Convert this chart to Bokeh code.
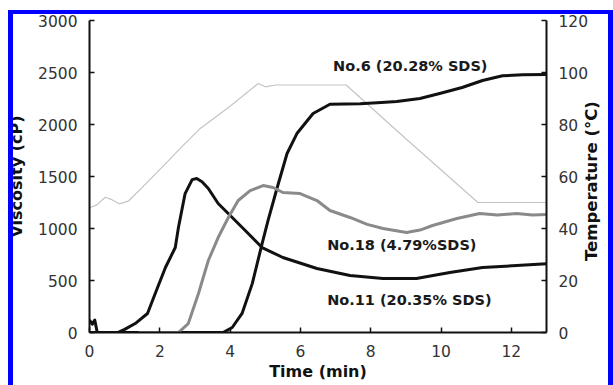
import math
from bokeh.plotting import figure
from bokeh.models import Range1d, LinearAxis, FixedTicker, InlineStyleSheet
from bokeh.core.properties import value
from bokeh.embed import file_html
from bokeh.resources import INLINE

# --- data -------------------------------------------------------------
# temperature programme (right axis, degC)
time_temp = [0, 0.2, 0.45, 0.65, 0.85, 1.1, 1.5, 2.24, 2.58, 3.15, 4.0, 4.8, 5.0, 5.3, 7.3, 9.0, 11.05, 13.0]
temp = [48, 49, 52, 51, 49.5, 50.5, 55.8, 66, 70.8, 78.5, 87, 95.8, 94.5, 95.2, 95.2, 74.5, 50, 50]

# No.6 (20.28% SDS) viscosity, cP
time_no6 = [0, 3.8, 4.06, 4.34, 4.63, 4.91, 5.08, 5.34, 5.62, 5.9, 6.36, 6.84, 7.7, 8.3, 8.74,
            9.4, 9.96, 10.6, 11.18, 11.75, 12.32, 13.0]
visc_no6 = [0, 0, 48, 183, 470, 855, 1077, 1394, 1721, 1913, 2106, 2195, 2200, 2212, 2221,
            2250, 2298, 2356, 2423, 2468, 2478, 2480]

# No.11 (20.35% SDS) viscosity, cP
time_no11 = [0, 0.08, 0.15, 0.22, 0.8, 1.0, 1.3, 1.65, 1.87, 2.16, 2.44, 2.53, 2.72, 2.92, 3.05,
             3.2, 3.38, 3.66, 4.06, 4.43, 4.91, 5.5, 6.47, 7.41, 8.35, 9.3, 10.25, 11.18, 12.15, 13.0]
visc_no11 = [120, 80, 120, 0, 0, 30, 86, 183, 375, 625, 817, 1010, 1336, 1470, 1480,
             1450, 1385, 1240, 1106, 981, 817, 721, 615, 548, 519, 519, 577, 625, 644, 660]

# No.18 (4.79% SDS) viscosity, cP
time_no18 = [1.4, 2.53, 2.81, 3.1, 3.38, 3.66, 3.95, 4.23, 4.57, 4.94, 5.22, 5.5, 5.99, 6.47,
             6.84, 7.41, 7.9, 8.35, 9.02, 9.4, 9.76, 10.45, 11.1, 11.6, 12.15, 12.6, 13.0]
visc_no18 = [0, 0, 86, 375, 692, 913, 1106, 1269, 1365, 1413, 1394, 1346, 1336, 1269,
             1173, 1106, 1040, 1000, 962, 985, 1029, 1096, 1144, 1130, 1144, 1130, 1135]

x_ticks = [0, 2, 4, 6, 8, 10, 12]
visc_ticks = [0, 500, 1000, 1500, 2000, 2500, 3000]
temp_ticks = [0, 20, 40, 60, 80, 100, 120]

curve_labels = ["No.6 (20.28% SDS)", "No.18 (4.79%SDS)", "No.11 (20.35% SDS)"]
label_time = [6.93, 6.76, 6.76]
label_visc = [2558, 837, 308]

# --- figure -----------------------------------------------------------
FONT = "DejaVu Sans"

p = figure(width=613, height=385, output_backend="svg", toolbar_location=None,
           x_range=Range1d(0, 13), y_range=Range1d(0, 3000),
           min_border_left=89, min_border_right=66, min_border_top=20, min_border_bottom=53,
           background_fill_color="white", border_fill_color="white")
p.outline_line_color = None
p.grid.visible = False
p.extra_y_ranges = {"temp": Range1d(0, 120)}


def style_axis(ax, ticks, standoff):
    ax.ticker = FixedTicker(ticks=ticks)
    ax.minor_tick_line_color = None
    ax.major_tick_in = 5
    ax.major_tick_out = 0
    ax.major_tick_line_width = 1.5
    ax.major_tick_line_color = "#111111"
    ax.axis_line_width = 2
    ax.axis_line_color = "#111111"
    ax.major_label_text_font = FONT
    ax.major_label_text_font_size = "15.5px"
    ax.major_label_text_color = "#333333"
    ax.major_label_standoff = standoff
    ax.axis_label_text_font = FONT
    ax.axis_label_text_font_size = "16px"
    ax.axis_label_text_font_style = "bold"
    ax.axis_label_text_color = "#111111"


xa = p.xaxis[0]
style_axis(xa, x_ticks, 12)
xa.axis_label = "Time (min)"
xa.axis_label_standoff = 2

ya = p.yaxis[0]
style_axis(ya, visc_ticks, 12)
ya.axis_label = "Viscosity (cP)"
ya.axis_label_standoff = 9

ra = LinearAxis(y_range_name="temp")
style_axis(ra, temp_ticks, 12)
p.add_layout(ra, "right")

# title of the temperature scale: a bare outer axis with one label that
# starts low on the scale and reads bottom to top
TEMP_TITLE_AT = 27.5
rt = LinearAxis(y_range_name="temp", ticker=FixedTicker(ticks=[TEMP_TITLE_AT]),
                major_label_overrides={TEMP_TITLE_AT: "Temperature (°C)"},
                major_label_orientation=math.pi / 2,
                major_tick_in=0, major_tick_out=0, minor_tick_line_color=None,
                axis_line_color=None, major_label_standoff=0,
                major_label_text_font=FONT, major_label_text_font_size="16.5px",
                major_label_text_font_style="bold", major_label_text_color="#111111")
p.add_layout(rt, "right")

# --- curves -----------------------------------------------------------
p.line(time_temp, temp, y_range_name="temp", line_color="#c4c4c4", line_width=1.2)
p.line(time_no6, visc_no6, line_color="#111111", line_width=3, line_join="round")
p.line(time_no11, visc_no11, line_color="#111111", line_width=3, line_join="round")
p.line(time_no18, visc_no18, line_color="#8a8a8a", line_width=3, line_join="round")

p.text(x=label_time, y=label_visc, text=curve_labels,
       text_font=value(FONT), text_font_style="bold", text_font_size="14.5px",
       text_color="#1a1a1a", text_baseline="middle", text_align="left")

# --- blue page frame, drawn over the canvas ---------------------------
frame_css = InlineStyleSheet(css="""
:host::after {
  content: "";
  position: absolute;
  left: 8px;
  top: 10px;
  width: 605px;
  height: 375px;
  box-sizing: border-box;
  border-left: 5px solid #0000ff;
  border-right: 5px solid #0000ff;
  border-top: 4px solid #0000ff;
  pointer-events: none;
  z-index: 10;
}
""")
p.stylesheets = [frame_css]

open("out.html", "w").write(file_html(p, INLINE))
